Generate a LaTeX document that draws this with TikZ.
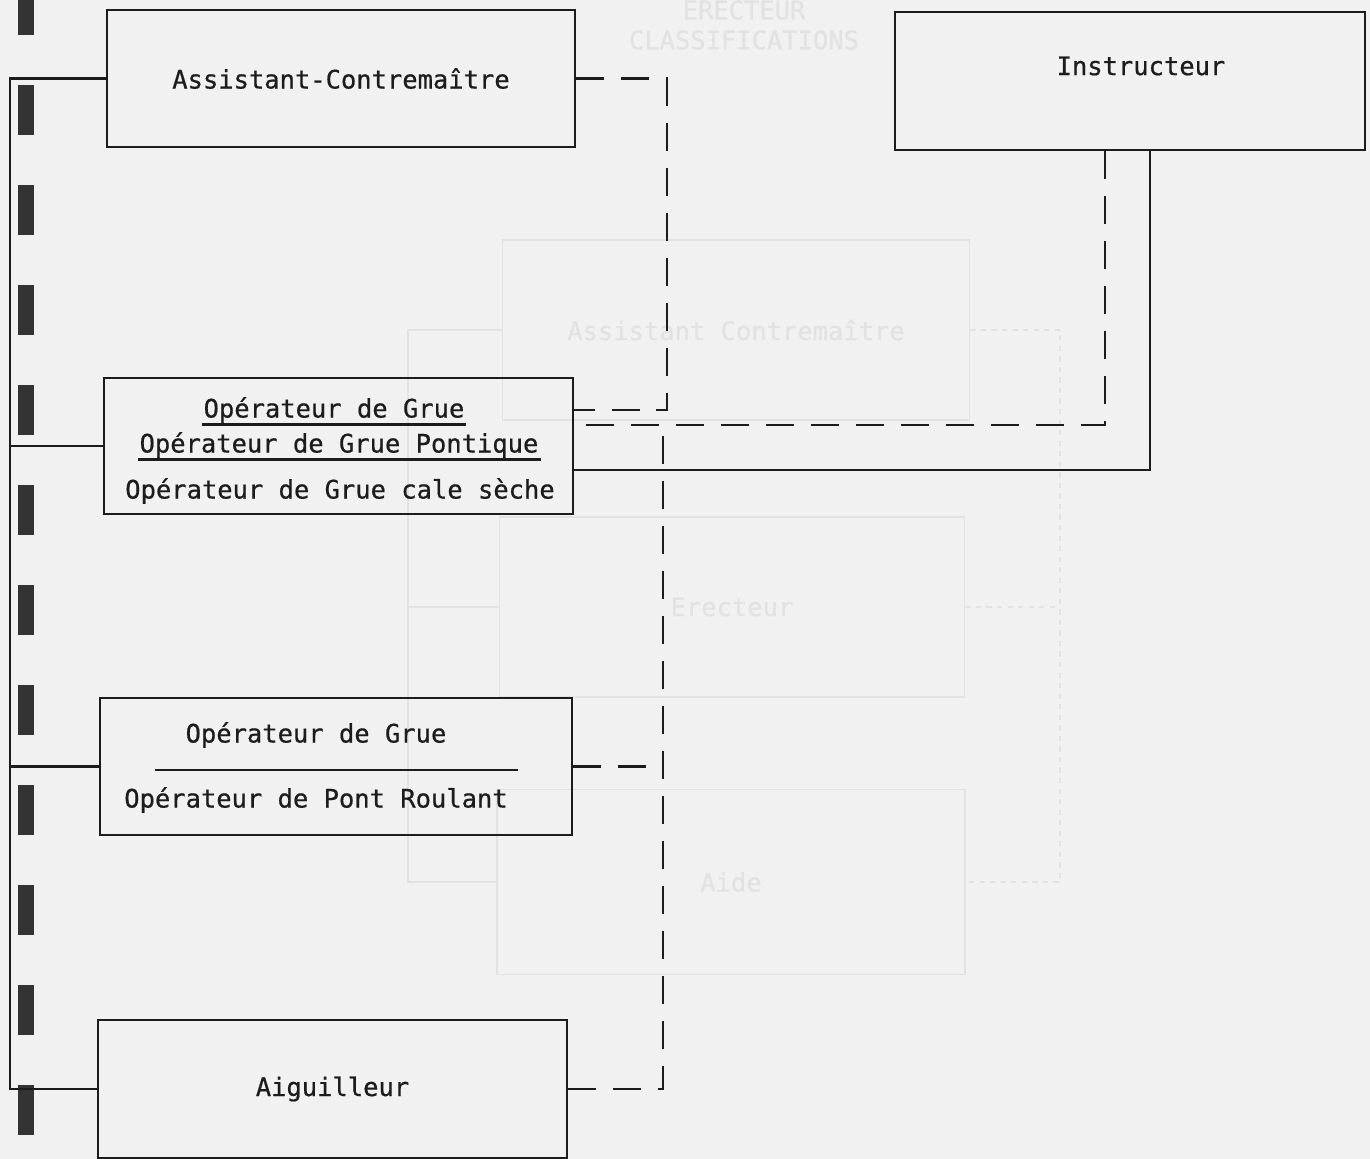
\documentclass[tikz,border=0pt]{standalone}
\usepackage{fontspec}
\setmonofont{DejaVu Sans Mono}[FakeBold=0.6]
\usetikzlibrary{calc}
\definecolor{paper}{RGB}{241,241,241}
\definecolor{ink}{RGB}{28,28,28}
\definecolor{faint}{RGB}{226,226,226}
\begin{document}
\begin{tikzpicture}[x=0.02cm,y=-0.02cm,
			every node/.style={font=\ttfamily\fontsize{14.5}{17}\selectfont,text=ink},
			box/.style={rectangle,draw=ink,line width=1.3pt,inner sep=0pt},
			label/.style={inner sep=1pt},
			link/.style={draw=ink,line width=1.3pt},
			dashline/.style={link,dash pattern=on 0.56cm off 0.34cm},
			ghost/.style={draw=faint,line width=1pt,text=faint},
			hole/.style={fill=black!80}
		]
		\fill[paper] (0,0) rectangle (1370,1159);
		\useasboundingbox (0,0) rectangle (1370,1159);

		% show-through from the next sheet
		\node[ghost,draw=none] (gtitle) at (744,10) {ERECTEUR};
		\node[ghost,draw=none] (gtitle2) at (744,40) {CLASSIFICATIONS};
		\node[ghost,rectangle,minimum width=9.34cm,minimum height=3.6cm] (gasst) at (736,330) {Assistant Contremaître};
		\node[ghost,rectangle,minimum width=9.3cm,minimum height=3.6cm] (gerect) at (732,607) {Erecteur};
		\node[ghost,rectangle,minimum width=9.36cm,minimum height=3.7cm] (gaide) at (731,882) {Aide};
		\coordinate (gbus) at (408,0);
		\coordinate (gright) at (1060,0);
		\draw[ghost] (gasst.west) -- (gasst.west -| gbus) -- (gaide.west -| gbus) -- (gaide.west);
		\draw[ghost] (gerect.west) -- (gerect.west -| gbus);
		\draw[ghost,dashed] (gasst.east) -- (gasst.east -| gright) -- (gaide.east -| gright) -- (gaide.east);
		\draw[ghost,dashed] (gerect.east) -- (gerect.east -| gright);

		% binding holes
		\foreach \y in {-15,85,...,1085}
			\fill[hole] (18,\y) rectangle (34,\y+50);

		% boxes
		\node[box,minimum width=9.36cm,minimum height=2.74cm] (asst) at (341,78.5) {Assistant-Contremaître};
		\node[box,minimum width=9.4cm,minimum height=2.76cm] (instr) at (1130,81) {};
		\node[label] (instrtext) at (1141,66) {Instructeur};
		\node[box,minimum width=9.38cm,minimum height=2.72cm] (grue) at (338.5,446) {};
		\node[label] (grue1) at (334,410) {Opérateur de Grue};
		\node[label] (grue2) at (339,445) {Opérateur de Grue Pontique};
		\node[label] (grue3) at (340,491) {Opérateur de Grue cale sèche};
		\draw[link] ([yshift=-4pt]grue1.base west) -- ([yshift=-4pt]grue1.base east);
		\draw[link] ([yshift=-4pt]grue2.base west) -- ([yshift=-4pt]grue2.base east);
		\node[box,minimum width=9.44cm,minimum height=2.74cm] (pont) at (336,766.5) {};
		\node[label] (pont1) at (316,735) {Opérateur de Grue};
		\node[label] (pont2) at (316,800) {Opérateur de Pont Roulant};
		\draw[link] (155,770) -- (518,770);
		\node[box,minimum width=9.38cm,minimum height=2.76cm] (aig) at (332.5,1089) {Aiguilleur};

		% solid line on the left
		\coordinate (bus) at (10,0);
		\draw[link] (asst.west) -- (asst.west -| bus) -- (aig.west -| bus) -- (aig.west);
		\draw[link] (grue.west) -- (grue.west -| bus);
		\draw[link] (pont.west) -- (pont.west -| bus);

		% dashed lines
		\coordinate (dA) at (667,0);
		\coordinate (dB) at (663,425);
		\coordinate (dI) at (1105,425);
		\coordinate (sI) at (1150,470);
		\draw[dashline] (asst.east) -- (asst.east -| dA) -- (dA |- grue1) -- (grue.east |- grue1);
		\draw[dashline] (instr.south -| dI) -- (dI) -- (dI -| grue.east);
		\draw[dashline] (aig.east) -- (dB |- aig.east) -- (dB);
		\draw[dashline] (pont.east) -- (pont.east -| dB);
		\draw[link] (instr.south -| sI) -- (sI) -- (sI -| grue.east);
	\end{tikzpicture}
\end{document}
